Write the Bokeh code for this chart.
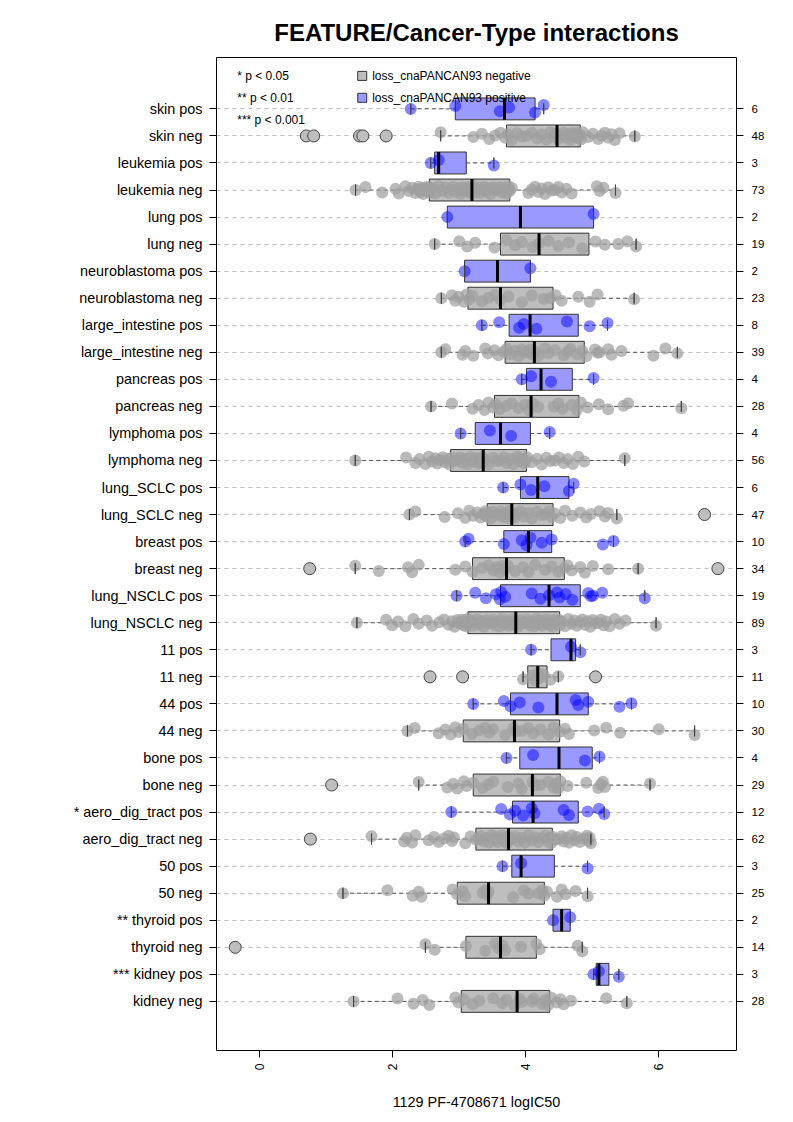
import math
from bokeh.plotting import figure
from bokeh.models import Range1d, FixedTicker, LinearAxis, Label, ColumnDataSource
from bokeh.embed import file_html
from bokeh.resources import INLINE

# ---------------- data (logIC50 per cell line) ----------------
skin_pos = [2.28, 2.95, 3.62, 3.76, 4.15, 4.28]
skin_neg = [0.71, 0.82, 1.51, 1.56, 1.91, 2.73, 3.22, 3.35, 3.46, 3.55, 3.63, 3.70, 3.74, 3.80,
            3.88, 3.95, 4.02, 4.10, 4.18, 4.25, 4.32, 4.38, 4.43, 4.46, 4.50, 4.55, 4.58, 4.62,
            4.65, 4.68, 4.71, 4.74, 4.76, 4.78, 4.80, 4.82, 4.84, 4.87, 4.95, 5.02, 5.10, 5.15,
            5.20, 5.25, 5.30, 5.35, 5.42, 5.65]
leukemia_pos = [2.58, 2.70, 3.53]
leukemia_neg = [1.45, 1.60, 1.85, 2.05, 2.10, 2.20, 2.25, 2.30, 2.35, 2.38, 2.40, 2.43, 2.45, 2.47,
                2.50, 2.52, 2.54, 2.55, 2.56, 2.60, 2.65, 2.70, 2.75, 2.80, 2.85, 2.88, 2.92, 2.96,
                3.00, 3.03, 3.06, 3.09, 3.12, 3.14, 3.16, 3.18, 3.20, 3.23, 3.26, 3.29, 3.32, 3.35,
                3.38, 3.42, 3.45, 3.48, 3.52, 3.55, 3.58, 3.62, 3.65, 3.68, 3.72, 3.75, 3.77, 3.80,
                4.05, 4.10, 4.15, 4.20, 4.25, 4.30, 4.35, 4.40, 4.45, 4.50, 4.55, 4.62, 4.70, 5.08,
                5.12, 5.18, 5.36]
lung_pos = [2.83, 5.03]
lung_neg = [2.64, 3.01, 3.13, 3.25, 3.54, 3.72, 3.85, 3.95, 4.11, 4.21, 4.35, 4.50, 4.66, 4.86,
            5.06, 5.20, 5.40, 5.54, 5.67]
neuroblastoma_pos = [3.09, 4.08]
neuroblastoma_neg = [2.74, 2.90, 2.95, 3.00, 3.08, 3.12, 3.16, 3.21, 3.35, 3.45, 3.55, 3.63, 3.75,
                     3.95, 4.10, 4.28, 4.38, 4.46, 4.55, 4.80, 4.97, 5.09, 5.64]
large_intestine_pos = [3.35, 3.61, 3.91, 3.98, 4.17, 4.63, 4.97, 5.24]
large_intestine_neg = [2.74, 2.80, 3.06, 3.10, 3.22, 3.40, 3.44, 3.54, 3.60, 3.68, 3.72, 3.78, 3.85,
                       3.90, 3.95, 4.00, 4.04, 4.08, 4.11, 4.14, 4.20, 4.30, 4.35, 4.45, 4.58, 4.64,
                       4.68, 4.78, 4.86, 4.92, 5.05, 5.09, 5.12, 5.25, 5.30, 5.45, 5.93, 6.11, 6.29]
pancreas_pos = [3.95, 4.09, 4.39, 5.03]
pancreas_neg = [2.585, 2.90, 3.21, 3.30, 3.39, 3.45, 3.52, 3.56, 3.62, 3.72, 3.80, 3.90, 4.00, 4.06,
                4.12, 4.20, 4.43, 4.50, 4.56, 4.70, 4.78, 4.84, 4.94, 5.11, 5.25, 5.48, 5.55, 6.35]
lymphoma_pos = [3.03, 3.47, 3.79, 4.37]
lymphoma_neg = [1.445, 2.21, 2.35, 2.41, 2.50, 2.55, 2.60, 2.65, 2.68, 2.72, 2.76, 2.80, 2.84, 2.86,
                2.90, 2.94, 2.98, 3.02, 3.06, 3.10, 3.14, 3.18, 3.22, 3.26, 3.30, 3.33, 3.35, 3.36,
                3.38, 3.45, 3.52, 3.58, 3.62, 3.68, 3.72, 3.78, 3.82, 3.88, 3.92, 3.96, 3.99, 4.01,
                4.03, 4.10, 4.18, 4.25, 4.32, 4.38, 4.45, 4.51, 4.58, 4.64, 4.72, 4.80, 4.89, 5.50]
lung_SCLC_pos = [3.67, 3.93, 4.09, 4.29, 4.66, 4.73]
lung_SCLC_neg = [2.26, 2.35, 2.79, 2.99, 3.10, 3.16, 3.22, 3.28, 3.33, 3.37, 3.40, 3.42, 3.44, 3.48,
                 3.52, 3.56, 3.60, 3.63, 3.66, 3.70, 3.73, 3.76, 3.78, 3.80, 3.84, 3.88, 3.93, 3.98,
                 4.05, 4.10, 4.18, 4.24, 4.30, 4.36, 4.40, 4.44, 4.53, 4.60, 4.71, 4.83, 4.92, 4.99,
                 5.12, 5.20, 5.25, 5.38, 6.70]
breast_pos = [3.10, 3.15, 3.68, 3.95, 4.02, 4.08, 4.25, 4.40, 5.17, 5.33]
breast_neg = [0.76, 1.445, 1.80, 2.24, 2.30, 2.40, 2.95, 3.10, 3.21, 3.35, 3.45, 3.52, 3.58, 3.62,
              3.66, 3.69, 3.70, 3.74, 3.85, 3.97, 4.05, 4.15, 4.30, 4.40, 4.50, 4.59, 4.64, 4.70,
              4.83, 4.90, 5.02, 5.25, 5.70, 6.90]
lung_NSCLC_pos = [2.97, 3.25, 3.41, 3.56, 3.62, 3.64, 3.70, 4.10, 4.23, 4.36, 4.48, 4.52, 4.61, 4.71,
                  4.95, 4.99, 5.02, 5.16, 5.80]
lung_NSCLC_neg = [1.47, 1.91, 2.00, 2.09, 2.20, 2.32, 2.40, 2.52, 2.60, 2.71, 2.78, 2.85, 2.90, 2.94,
                  2.98, 3.00, 3.03, 3.05, 3.07, 3.09, 3.11, 3.13, 3.14, 3.17, 3.20, 3.24, 3.28, 3.31,
                  3.35, 3.38, 3.42, 3.45, 3.48, 3.52, 3.55, 3.58, 3.62, 3.65, 3.68, 3.72, 3.75, 3.78,
                  3.81, 3.84, 3.86, 3.89, 3.92, 3.96, 4.00, 4.03, 4.07, 4.10, 4.14, 4.17, 4.20, 4.23,
                  4.26, 4.29, 4.32, 4.35, 4.38, 4.41, 4.44, 4.47, 4.49, 4.51, 4.52, 4.55, 4.60, 4.65,
                  4.70, 4.74, 4.78, 4.82, 4.86, 4.90, 4.94, 4.98, 5.02, 5.06, 5.10, 5.14, 5.18, 5.22,
                  5.27, 5.35, 5.42, 5.51, 5.97]
t11_pos = [4.09, 4.69, 4.83]
t11_neg = [2.57, 3.06, 3.97, 4.11, 4.15, 4.19, 4.22, 4.28, 4.38, 4.50, 5.06]
t44_pos = [3.22, 3.68, 3.78, 3.92, 4.20, 4.76, 4.80, 4.95, 5.42, 5.60]
t44_neg = [2.23, 2.34, 2.70, 2.80, 2.88, 2.95, 3.00, 3.07, 3.20, 3.31, 3.40, 3.46, 3.52, 3.70, 3.82,
           3.86, 3.95, 4.05, 4.12, 4.23, 4.35, 4.43, 4.52, 4.60, 4.66, 5.04, 5.22, 5.43, 6.01, 6.55]
bone_pos = [3.72, 4.12, 4.90, 5.12]
bone_neg = [1.09, 2.40, 2.83, 2.92, 2.98, 3.08, 3.12, 3.22, 3.36, 3.45, 3.52, 3.74, 3.90, 3.95, 4.11,
            4.15, 4.23, 4.35, 4.43, 4.46, 4.50, 4.53, 4.64, 4.92, 5.10, 5.14, 5.17, 5.20, 5.88]
aero_pos = [2.89, 3.64, 3.77, 3.85, 3.97, 4.10, 4.14, 4.58, 4.66, 4.94, 5.11, 5.19]
aero_neg = [0.77, 1.69, 2.18, 2.22, 2.30, 2.35, 2.55, 2.63, 2.70, 2.78, 2.85, 2.90, 2.93, 3.10, 3.18,
            3.26, 3.30, 3.34, 3.38, 3.42, 3.46, 3.50, 3.53, 3.56, 3.59, 3.62, 3.65, 3.68, 3.71, 3.73,
            3.74, 3.76, 3.80, 3.85, 3.90, 3.95, 4.00, 4.05, 4.10, 4.15, 4.20, 4.25, 4.30, 4.34, 4.37,
            4.39, 4.41, 4.45, 4.50, 4.55, 4.58, 4.62, 4.66, 4.70, 4.74, 4.78, 4.82, 4.88, 4.93, 4.95,
            4.97, 4.99]
t50_pos = [3.66, 3.94, 4.94]
t50_neg = [1.26, 1.93, 2.31, 2.40, 2.44, 2.91, 2.98, 3.06, 3.10, 3.36, 3.40, 3.43, 3.45, 3.82, 3.98,
           4.05, 4.20, 4.26, 4.29, 4.33, 4.48, 4.55, 4.61, 4.76, 4.94]
thyroid_pos = [4.42, 4.68]
thyroid_neg = [-0.36, 2.50, 2.64, 3.11, 3.40, 3.55, 3.60, 3.66, 3.70, 3.94, 4.17, 4.22, 4.79, 4.86]
kidney_pos = [5.03, 5.11, 5.41]
kidney_neg = [1.42, 2.08, 2.32, 2.46, 2.56, 2.95, 3.00, 3.08, 3.21, 3.31, 3.52, 3.66, 3.72, 3.84,
              3.92, 3.95, 4.10, 4.13, 4.25, 4.30, 4.35, 4.39, 4.48, 4.53, 4.58, 4.69, 5.22, 5.53]

# rows, top to bottom: (label, values, group)
rows = [
    ("skin pos", skin_pos, "pos"), ("skin neg", skin_neg, "neg"),
    ("leukemia pos", leukemia_pos, "pos"), ("leukemia neg", leukemia_neg, "neg"),
    ("lung pos", lung_pos, "pos"), ("lung neg", lung_neg, "neg"),
    ("neuroblastoma pos", neuroblastoma_pos, "pos"), ("neuroblastoma neg", neuroblastoma_neg, "neg"),
    ("large_intestine pos", large_intestine_pos, "pos"), ("large_intestine neg", large_intestine_neg, "neg"),
    ("pancreas pos", pancreas_pos, "pos"), ("pancreas neg", pancreas_neg, "neg"),
    ("lymphoma pos", lymphoma_pos, "pos"), ("lymphoma neg", lymphoma_neg, "neg"),
    ("lung_SCLC pos", lung_SCLC_pos, "pos"), ("lung_SCLC neg", lung_SCLC_neg, "neg"),
    ("breast pos", breast_pos, "pos"), ("breast neg", breast_neg, "neg"),
    ("lung_NSCLC pos", lung_NSCLC_pos, "pos"), ("lung_NSCLC neg", lung_NSCLC_neg, "neg"),
    ("11 pos", t11_pos, "pos"), ("11 neg", t11_neg, "neg"),
    ("44 pos", t44_pos, "pos"), ("44 neg", t44_neg, "neg"),
    ("bone pos", bone_pos, "pos"), ("bone neg", bone_neg, "neg"),
    ("* aero_dig_tract pos", aero_pos, "pos"), ("aero_dig_tract neg", aero_neg, "neg"),
    ("50 pos", t50_pos, "pos"), ("50 neg", t50_neg, "neg"),
    ("** thyroid pos", thyroid_pos, "pos"), ("thyroid neg", thyroid_neg, "neg"),
    ("*** kidney pos", kidney_pos, "pos"), ("kidney neg", kidney_neg, "neg"),
]

sig_texts = ["* p < 0.05", "** p < 0.01", "*** p < 0.001"]
legend_texts = ["loss_cnaPANCAN93 negative", "loss_cnaPANCAN93 positive"]
x_ticks = [0, 2, 4, 6]

# ---------------- styles ----------------
BOX_FILL = {"neg": "#BEBEBE", "pos": "#9999FF"}
PT_COLOR = {"neg": "#A0A0A0", "pos": "#0000FF"}
PT_ALPHA = {"neg": 0.72, "pos": 0.48}
JIT = [0.00, 0.11, -0.09, 0.05, -0.13, 0.14, -0.04, 0.08, -0.11, 0.02, 0.12, -0.07, 0.06, -0.15, 0.10, -0.02]
FONT = "Liberation Sans"
BOX_H = 0.81


def fivenum(v):
    x = sorted(v)
    n = len(x)
    n4 = math.floor((n + 3) / 2) / 2
    d = [1, n4, (n + 1) / 2, n + 1 - n4, n]
    return [0.5 * (x[math.floor(di) - 1] + x[math.ceil(di) - 1]) for di in d]


nrows = len(rows)
box = dict(y=[], q1=[], q3=[], med=[], lw=[], uw=[], fill=[], lo=[], hi=[])
pts = {"neg": dict(x=[], y=[]), "pos": dict(x=[], y=[])}
outl = dict(x=[], y=[])
labels = {}
counts = {}
for i, (lab, vals, grp) in enumerate(rows):
    y = nrows - i
    f = fivenum(vals)
    q1, med, q3 = f[1], f[2], f[3]
    iqr = q3 - q1
    lo_f, hi_f = q1 - 1.5 * iqr, q3 + 1.5 * iqr
    inside = [v for v in vals if lo_f <= v <= hi_f]
    lw, uw = min(inside), max(inside)
    box["y"].append(y); box["q1"].append(q1); box["q3"].append(q3); box["med"].append(med)
    box["lw"].append(lw); box["uw"].append(uw); box["fill"].append(BOX_FILL[grp])
    box["lo"].append(y - BOX_H / 2); box["hi"].append(y + BOX_H / 2)
    for k, v in enumerate(sorted(vals)):
        if lo_f <= v <= hi_f:
            pts[grp]["x"].append(v)
            pts[grp]["y"].append(y + JIT[k % len(JIT)])
        else:
            outl["x"].append(v)
            outl["y"].append(y)
    labels[y] = lab
    counts[y] = str(len(vals))

src = ColumnDataSource(box)

p = figure(width=777, height=1114, output_backend="svg", toolbar_location=None,
           x_range=Range1d(-0.642, 7.18), y_range=Range1d(-0.816, 35.9),
           min_border_left=216, min_border_right=41, min_border_top=57, min_border_bottom=64,
           title="FEATURE/Cancer-Type interactions")
p.background_fill_color = "white"
p.border_fill_color = "white"
p.outline_line_color = "black"
p.outline_line_width = 1

p.title.align = "center"
p.title.text_font = FONT
p.title.text_font_size = "24px"
p.title.text_font_style = "bold"
p.title.text_color = "black"
p.title.standoff = 24

yt = list(range(1, nrows + 1))
p.xgrid.visible = False
p.ygrid.ticker = FixedTicker(ticks=yt)
p.ygrid.grid_line_color = "#BEBEBE"
p.ygrid.grid_line_dash = "4 4"
p.ygrid.grid_line_width = 1

# x axis
p.xaxis.ticker = FixedTicker(ticks=x_ticks)
p.xaxis.major_label_orientation = math.pi / 2
p.xaxis.axis_line_color = None
p.xaxis.major_tick_in = 0
p.xaxis.major_tick_out = 7
p.xaxis.minor_tick_line_color = None
p.xaxis.major_tick_line_color = "black"
p.xaxis.major_label_text_font = FONT
p.xaxis.major_label_text_font_size = "12px"
p.xaxis.major_label_text_color = "black"
p.xaxis.major_label_standoff = 6
p.xaxis.axis_label = "1129 PF-4708671 logIC50"
p.xaxis.axis_label_text_font = FONT
p.xaxis.axis_label_text_font_size = "14.4px"
p.xaxis.axis_label_text_font_style = "normal"
p.xaxis.axis_label_text_color = "black"
p.xaxis.axis_label_standoff = 21

# left axis
p.yaxis.ticker = FixedTicker(ticks=yt)
p.yaxis.major_label_overrides = labels
p.yaxis.axis_line_color = None
p.yaxis.major_tick_in = 0
p.yaxis.major_tick_out = 7
p.yaxis.minor_tick_line_color = None
p.yaxis.major_tick_line_color = "black"
p.yaxis.major_label_text_font = FONT
p.yaxis.major_label_text_font_size = "14.4px"
p.yaxis.major_label_text_color = "black"
p.yaxis.major_label_standoff = 7

# right axis with counts
ra = LinearAxis(ticker=FixedTicker(ticks=yt), major_label_overrides=counts)
ra.axis_line_color = None
ra.major_tick_in = 0
ra.major_tick_out = 7
ra.minor_tick_line_color = None
ra.major_tick_line_color = "black"
ra.major_label_text_font = FONT
ra.major_label_text_font_size = "11.5px"
ra.major_label_text_color = "black"
ra.major_label_standoff = 8
p.add_layout(ra, "right")

# whiskers
p.segment(x0="lw", y0="y", x1="q1", y1="y", source=src, line_color="#555555", line_dash="4 3", line_width=1)
p.segment(x0="q3", y0="y", x1="uw", y1="y", source=src, line_color="#555555", line_dash="4 3", line_width=1)
# boxes
p.hbar(y="y", height=BOX_H, left="q1", right="q3", source=src, fill_color="fill",
       line_color="#333333", line_width=1)
# points
for g in ("neg", "pos"):
    p.scatter(x=pts[g]["x"], y=pts[g]["y"], size=12, marker="circle",
              fill_color=PT_COLOR[g], fill_alpha=PT_ALPHA[g], line_color=None)
# medians
p.segment(x0="med", y0="lo", x1="med", y1="hi", source=src, line_color="black", line_width=3)
# whisker caps
cap = dict(x=box["lw"] + box["uw"], y=box["y"] + box["y"])
p.rect(x=cap["x"], y=cap["y"], width=0.001, height=0.4, line_color="#444444", line_width=1, fill_color=None)
# outliers
p.scatter(x=outl["x"], y=outl["y"], size=12, marker="circle", fill_color="#BEBEBE",
          line_color="#444444", line_width=1)

# legend (inside top-left)
for j, t in enumerate(sig_texts):
    p.add_layout(Label(x=-0.33, y=35.22 - 0.81 * j, text=t, text_font=FONT, text_font_size="12px",
                       text_baseline="middle", text_align="left", text_color="black"))
p.scatter(x=[1.55, 1.55], y=[35.22, 34.41], marker="square", size=9,
          fill_color=[BOX_FILL["neg"], BOX_FILL["pos"]], line_color="#333333")
for j, t in enumerate(legend_texts):
    p.add_layout(Label(x=1.70, y=35.22 - 0.81 * j, text=t, text_font=FONT, text_font_size="12px",
                       text_baseline="middle", text_align="left", text_color="black"))

open("out.html", "w").write(file_html(p, INLINE))
